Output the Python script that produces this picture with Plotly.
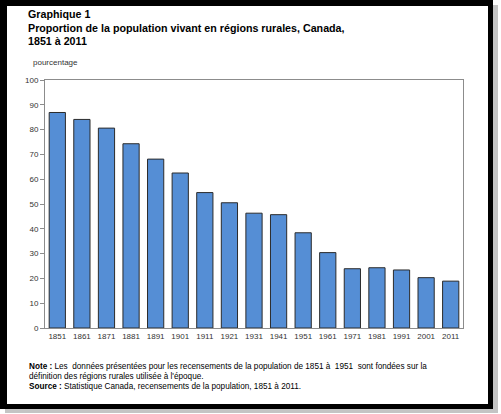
import plotly.graph_objects as go

# census years and rural share (%)
years = ["1851", "1861", "1871", "1881", "1891", "1901", "1911", "1921", "1931",
         "1941", "1951", "1961", "1971", "1981", "1991", "2001", "2011"]
rural_pct = [86.9, 84.1, 80.6, 74.3, 68.1, 62.5, 54.6, 50.5, 46.3,
             45.7, 38.4, 30.4, 23.9, 24.3, 23.4, 20.3, 18.9]
y_ticks = list(range(0, 101, 10))

title_lines = ["Graphique 1",
               "Proportion de la population vivant en régions rurales, Canada,",
               "1851 à 2011"]
note_lines = ["<b>Note :</b> Les  données présentées pour les recensements de la population de 1851 à  1951  sont fondées sur la",
              "définition des régions rurales utilisée à l'époque.",
              "<b>Source :</b> Statistique Canada, recensements de la population, 1851 à 2011."]

W, H = 501, 414
L, R, T, B = 45, 38, 80, 86
pw, ph = W - L - R, H - T - B


def px(x):
    return (x - L) / pw


def py(y):
    return (H - B - y) / ph


def box(x0, y0, x1, y1, color):
    fig.add_shape(type="rect", xref="paper", yref="paper", x0=px(x0), y0=py(y1), x1=px(x1), y1=py(y0),
                  line=dict(width=0), fillcolor=color, layer="below")


fig = go.Figure()
fig.add_trace(go.Bar(
    x=years, y=rural_pct,
    marker=dict(color="#558ed5", line=dict(color="#2b2b2b", width=1)),
))

font = "Liberation Sans, Arial, sans-serif"

# paper is black, the white card is laid over it -> black frame on all sides
fig.update_layout(
    width=W, height=H,
    margin=dict(l=L, r=R, t=T, b=B),
    paper_bgcolor="black", plot_bgcolor="white",
    showlegend=False, bargap=0.34,
    font=dict(family=font, size=8, color="#333333"),
    xaxis=dict(showline=True, linecolor="#8c8c8c", linewidth=1, mirror=True,
               ticks="", showgrid=False, tickfont=dict(size=8, color="#333333")),
    yaxis=dict(range=[0, 100], tickvals=y_ticks, showline=True, linecolor="#8c8c8c",
               linewidth=1, mirror=True, ticks="outside", ticklen=4, tickcolor="#8c8c8c",
               showgrid=False, zeroline=False, tickfont=dict(size=8, color="#333333")),
)

# outside of the frame, shadow, inner card
box(493, 0, 501, 414, "white")
box(0, 409, 501, 414, "white")
box(493, 5, 498, 413, "#c4c4c4")
box(5, 409, 498, 413, "#c4c4c4")
box(7, 6, 488, 404, "white")

# title block, one annotation per line to control spacing
for i, line in enumerate(title_lines):
    fig.add_annotation(xref="paper", yref="paper", x=px(26), y=py(14.5 + 13 * i),
                       xanchor="left", yanchor="middle", showarrow=False,
                       text="<b>" + line + "</b>",
                       font=dict(size=10.7, color="black", family=font))
fig.add_annotation(xref="paper", yref="paper", x=px(31), y=py(63), xanchor="left", yanchor="middle",
                   showarrow=False, text="pourcentage", font=dict(size=8, color="#333333"))

# notes
for i, line in enumerate(note_lines):
    fig.add_annotation(xref="paper", yref="paper", x=px(27), y=py(366 + 10.3 * i),
                       xanchor="left", yanchor="middle", showarrow=False, text=line,
                       font=dict(size=8.2, color="black"))

# page body has a default 8px margin; drop it so the figure fills the window
fig.write_html("out.html", config={"displayModeBar": False},
               post_script="document.body.style.margin='0';")
